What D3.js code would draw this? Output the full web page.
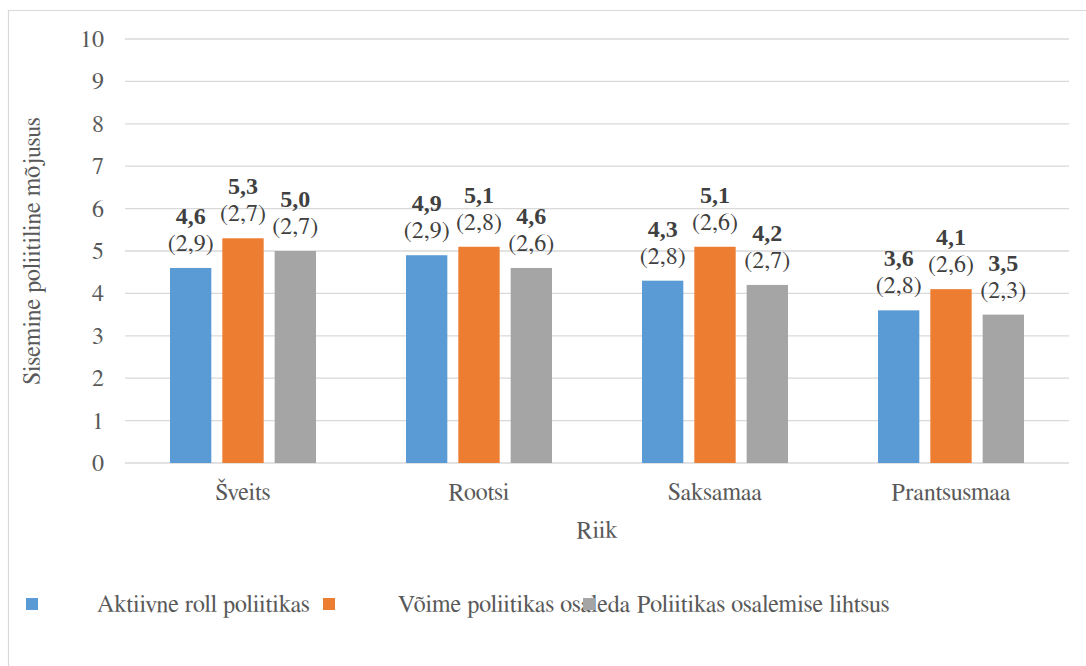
<!DOCTYPE html>
<html><head><meta charset="utf-8">
<script src="https://cdn.jsdelivr.net/npm/d3@7"></script>
</head><body style="margin:0;background:#fff">
<svg id="c" width="1086" height="666"></svg>
<script>
const categories = ["Šveits", "Rootsi", "Saksamaa", "Prantsusmaa"];
const seriesNames = ["Aktiivne roll poliitikas", "Võime poliitikas osaleda", "Poliitikas osalemise lihtsus"];
const meanValues = [
  [4.6, 4.9, 4.3, 3.6],
  [5.3, 5.1, 5.1, 4.1],
  [5.0, 4.6, 4.2, 3.5]
];
const sdValues = [
  [2.9, 2.9, 2.8, 2.8],
  [2.7, 2.8, 2.6, 2.6],
  [2.7, 2.6, 2.7, 2.3]
];
const yTicks = [0,1,2,3,4,5,6,7,8,9,10];
const colors = ["#5B9BD5", "#ED7D31", "#A5A5A5"];

const svg = d3.select("#c");
const FF = "FreeSerif, Liberation Serif, serif";
const FB = "Liberation Serif";
const fmt = v => v.toFixed(1).replace(".", ",");
const FS = 24;

// frame
svg.append("path").attr("d","M8.5,700V10.5H1090").attr("fill","none").attr("stroke","#d9d9d9").attr("stroke-width",1.2);

const x0 = d3.scaleBand().domain(categories).range([125, 1069]);
const y = d3.scaleLinear().domain([0, 10]).range([463, 39]);
const x1 = d3.scaleBand().domain(d3.range(3)).range([-73, 73]).paddingInner(0.21);

// gridlines
svg.append("g").selectAll("line").data(yTicks).join("line")
  .attr("x1",125).attr("x2",1069).attr("y1",d=>y(d)).attr("y2",d=>y(d))
  .attr("stroke","#d9d9d9").attr("stroke-width",1.3);

// y ticks
svg.append("g").selectAll("text").data(yTicks).join("text")
  .attr("x",104).attr("y",d=>y(d)+8)
  .attr("text-anchor","end")
  .attr("font-family",FF).attr("font-size",FS).attr("fill","#595959").text(d=>d);

// bars
const groups = svg.append("g").selectAll("g").data(categories).join("g")
  .attr("transform", c => `translate(${x0(c)+x0.bandwidth()/2},0)`);
groups.each(function(c, ci){
  const g = d3.select(this);
  seriesNames.forEach((s, si) => {
    const v = meanValues[si][ci];
    const bx = x1(si);
    g.append("rect").attr("x",bx).attr("width",x1.bandwidth())
      .attr("y",y(v)).attr("height",y(0)-y(v)).attr("fill",colors[si]);
    const cx = bx + x1.bandwidth()/2;
    g.append("text").attr("x",cx).attr("y",y(v)-44).attr("text-anchor","middle")
      .attr("font-family",FB).attr("font-size",FS).attr("font-weight","bold").attr("fill","#404040").text(fmt(v));
    g.append("text").attr("x",cx).attr("y",y(v)-17).attr("text-anchor","middle")
      .attr("font-family",FF).attr("font-size",FS).attr("fill","#404040").text("(" + fmt(sdValues[si][ci]) + ")");
  });
});

// category labels
svg.append("g").selectAll("text").data(categories).join("text")
  .attr("x",c=>x0(c)+x0.bandwidth()/2).attr("y",500).attr("text-anchor","middle")
  .attr("font-family",FF).attr("font-size",FS).attr("fill","#595959").text(d=>d);

// axis titles
svg.append("text").attr("x",597).attr("y",538).attr("text-anchor","middle")
  .attr("font-family",FF).attr("font-size",FS).attr("fill","#595959").text("Riik");
svg.append("text").attr("transform","translate(40,251) rotate(-90)").attr("text-anchor","middle")
  .attr("font-family",FF).attr("font-size",FS).attr("fill","#595959").text("Sisemine poliitiline mõjusus");

// legend
const legSquareX = [26, 323, 583];
const legTextX = [97, 398, 637];
const lg = svg.append("g").selectAll("g").data(seriesNames).join("g");
lg.append("rect").attr("x",(d,i)=>legSquareX[i]).attr("y",598).attr("width",12).attr("height",12)
  .attr("fill",(d,i)=>colors[i]);
lg.append("text").attr("x",(d,i)=>legTextX[i]).attr("y",612)
  .attr("font-family",FF).attr("font-size",FS)
  .attr("fill","#595959").text(d=>d);
</script>
</body></html>
